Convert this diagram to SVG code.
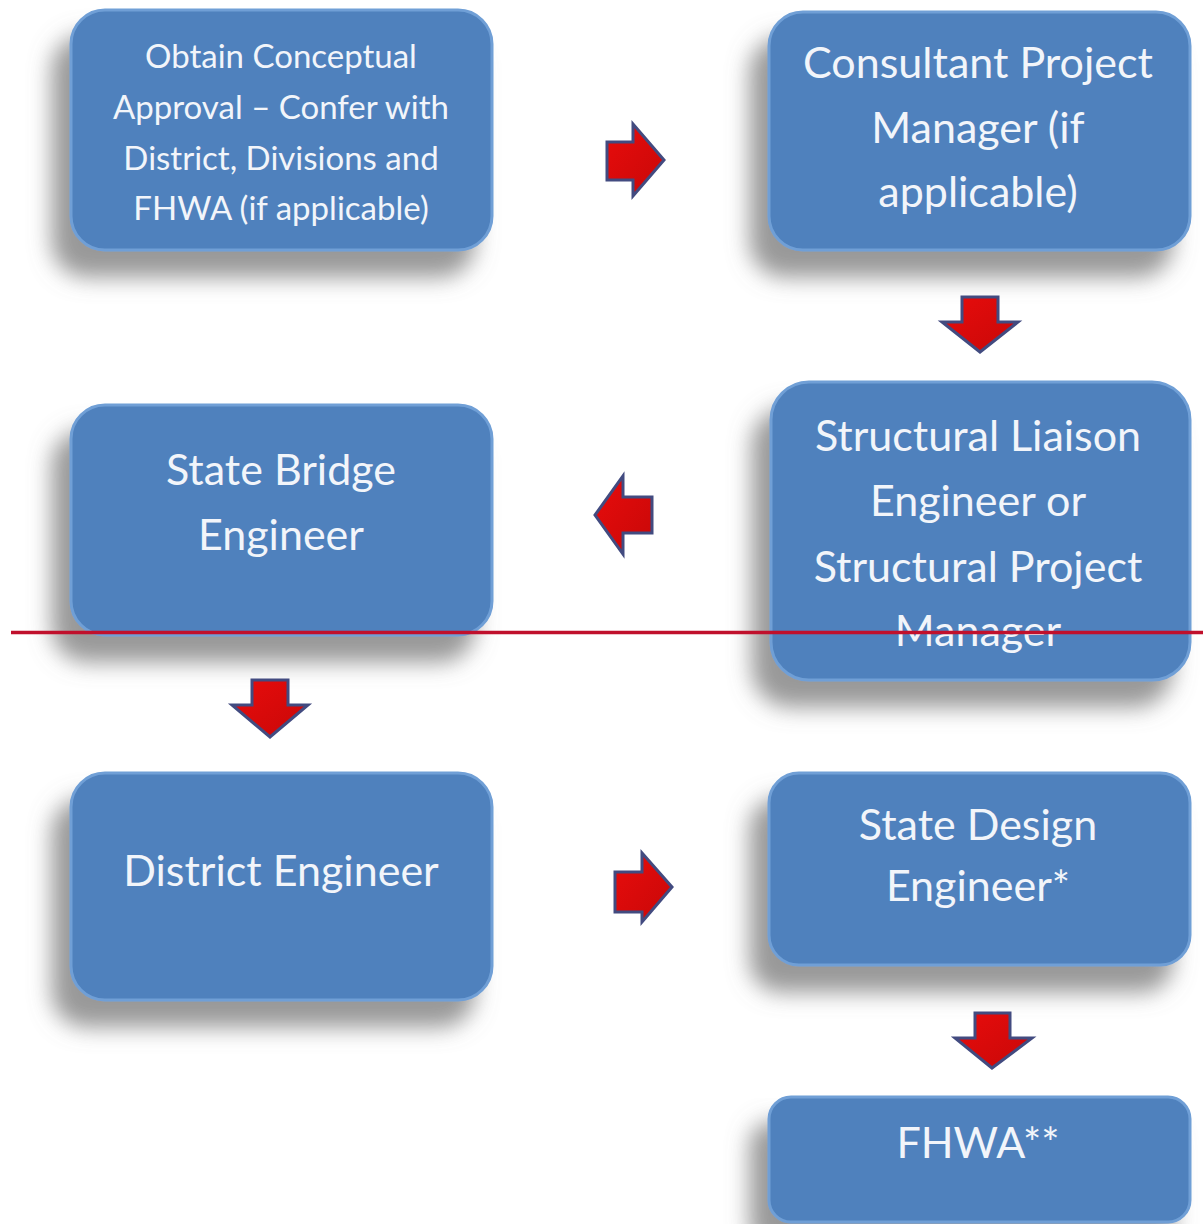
<svg xmlns="http://www.w3.org/2000/svg" width="1203" height="1224" viewBox="0 0 1203 1224">
<defs>
<filter id="sh" x="-20%" y="-20%" width="140%" height="160%">
<feGaussianBlur in="SourceAlpha" stdDeviation="11"/>
<feOffset dx="-18" dy="26" result="b"/>
<feFlood flood-color="#777777" flood-opacity="0.75"/>
<feComposite in2="b" operator="in" result="s"/>
<feMerge><feMergeNode in="s"/><feMergeNode in="SourceGraphic"/></feMerge>
</filter>
<linearGradient id="ar" x1="0" y1="0" x2="1" y2="1">
<stop offset="0" stop-color="#e80c0c"/>
<stop offset="1" stop-color="#c80808"/>
</linearGradient>
<style>
.box{fill:#4f81bd;stroke:#6f9fd6;stroke-width:3;filter:url(#sh)}
.t{font-family:Lato,"Open Sans","Liberation Sans",sans-serif;fill:#f2f5fa;text-anchor:middle}
.s31{font-size:33px}
.s40{font-size:43px}
.arr{fill:url(#ar);stroke:#424b80;stroke-width:3;stroke-linejoin:miter}
</style>
</defs>
<rect width="1203" height="1224" fill="#ffffff"/>
<g id="n1">
<rect class="box" x="71" y="10" width="421" height="240" rx="34"/>
<text class="t s31" x="281" y="68">Obtain Conceptual</text>
<text class="t s31" x="281" y="119">Approval – Confer with</text>
<text class="t s31" x="281" y="170">District, Divisions and</text>
<text class="t s31" x="281" y="220">FHWA (if applicable)</text>
</g>
<g id="n2">
<rect class="box" x="769" y="12" width="421" height="238" rx="34"/>
<text class="t s40" x="978" y="78">Consultant Project</text>
<text class="t s40" x="978" y="143">Manager (if</text>
<text class="t s40" x="978" y="207">applicable)</text>
</g>
<g id="n3">
<rect class="box" x="771" y="382" width="419" height="298" rx="38"/>
<text class="t s40" x="978" y="451">Structural Liaison</text>
<text class="t s40" x="978" y="516">Engineer or</text>
<text class="t s40" x="978" y="582">Structural Project</text>
<text class="t s40" x="978" y="646">Manager</text>
</g>
<g id="n4">
<rect class="box" x="71" y="405" width="421" height="230" rx="34"/>
<text class="t s40" x="281" y="485">State Bridge</text>
<text class="t s40" x="281" y="550">Engineer</text>
</g>
<g id="n5">
<rect class="box" x="71" y="773" width="421" height="227" rx="34"/>
<text class="t s40" x="281" y="886">District Engineer</text>
</g>
<g id="n6">
<rect class="box" x="769" y="773" width="421" height="192" rx="30"/>
<text class="t s40" x="978" y="840">State Design</text>
<text class="t s40" x="978" y="901">Engineer*</text>
</g>
<g id="n7">
<rect class="box" x="769" y="1097" width="421" height="125" rx="22"/>
<text class="t s40" x="978" y="1158">FHWA**</text>
</g>
<g id="connectors">
<polygon class="arr" points="607,142 633,142 633,124 664,160 633,196 633,180 607,180"/>
<polygon class="arr" points="962,297 998,297 998,322 1018,322 980,352 942,322 962,322"/>
<polygon class="arr" points="652,497 623,497 623,476 595,515 623,554 623,533 652,533"/>
<polygon class="arr" points="252,680 288,680 288,705 308,705 270,737 232,705 252,705"/>
<polygon class="arr" points="615,872 642,872 642,853 672,887 642,922 642,912 615,912"/>
<polygon class="arr" points="975,1013 1010,1013 1010,1038 1032,1038 992,1068 955,1038 975,1038"/>
</g>
<line x1="11" y1="632.5" x2="1203" y2="632.5" stroke="#c0102c" stroke-width="3.5"/>
</svg>
